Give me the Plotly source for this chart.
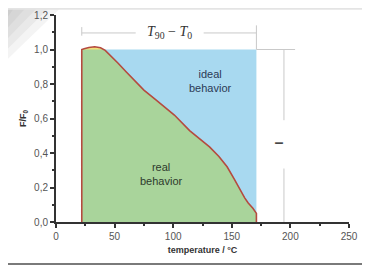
import plotly.graph_objects as go

# measured curve (temperature in °C, relative force F/F0)
temperature = [22, 22, 24, 28, 33, 38, 42, 45, 49, 53, 60, 67, 75, 85, 93, 101, 114, 123, 131,
               139, 146, 152, 157, 161, 164, 168, 171, 171]
force_ratio = [0, 1.0, 1.004, 1.012, 1.016, 1.01, 0.995, 0.975, 0.95, 0.92, 0.87, 0.82, 0.765,
               0.71, 0.665, 0.62, 0.53, 0.48, 0.435, 0.38, 0.32, 0.25, 0.185, 0.14, 0.11, 0.08,
               0.05, 0]

T0 = 22
T90 = 171
ideal_level = 1.0

x_ticks = [0, 50, 100, 150, 200, 250]
y_ticks = [0.0, 0.2, 0.4, 0.6, 0.8, 1.0, 1.2]
y_tick_text = ["0,0", "0,2", "0,4", "0,6", "0,8", "1,0", "1,2"]

GREEN = "#a9d49b"
BLUE = "#a8d9f0"
YELLOW = "#f3e07a"
LINE = "#b54a3f"
GUIDE = "#c9c9c9"

fig = go.Figure()

# ideal behaviour rectangle
fig.add_trace(go.Scatter(x=[T0, T90, T90, T0, T0], y=[0, 0, ideal_level, ideal_level, 0],
                         fill="toself", fillcolor=BLUE, line=dict(width=0), mode="lines",
                         hoverinfo="skip", showlegend=False))
# real behaviour area
fig.add_trace(go.Scatter(x=temperature, y=force_ratio, fill="toself", fillcolor=GREEN,
                         line=dict(width=0), mode="lines", hoverinfo="skip", showlegend=False))
# overshoot above ideal level (region between curve and ideal level)
over_x, over_y = [], []
for i in range(1, len(temperature)):
    t, f = temperature[i], force_ratio[i]
    if f >= ideal_level:
        over_x.append(t)
        over_y.append(f)
    elif over_x:
        tp, fp = temperature[i - 1], force_ratio[i - 1]
        over_x.append(tp + (fp - ideal_level) / (fp - f) * (t - tp))
        over_y.append(ideal_level)
        break
fig.add_trace(go.Scatter(x=over_x, y=over_y, fill="toself", fillcolor=YELLOW,
                         line=dict(width=0), mode="lines", hoverinfo="skip", showlegend=False))
# curve
fig.add_trace(go.Scatter(x=temperature, y=force_ratio, mode="lines",
                         line=dict(color=LINE, width=1.6), showlegend=False))

shapes = []
def seg(x0, y0, x1, y1, color=GUIDE, width=1, xref="x", yref="y"):
    shapes.append(dict(type="line", x0=x0, y0=y0, x1=x1, y1=y1, xref=xref, yref=yref,
                       line=dict(color=color, width=width), layer="above"))

# guide lines
seg(T90, ideal_level, 204, ideal_level)
seg(194.5, ideal_level, 194.5, 0.59)
seg(194.5, 0.31, 194.5, 0.0)
seg(T0, 1.096, 68, 1.096)
seg(126, 1.096, T90, 1.096)
seg(T90, 1.14, T90, ideal_level)
seg(T0, 1.08, T0, 1.13)

# decorative frame (soft corner shading, top band, bottom line)
for k, a in enumerate([0.08, 0.08, 0.08, 0.08, 0.08]):
    ex = 0.02 - 0.04 * k
    ey = 0.78 + 0.05 * k
    shapes.append(dict(type="path", xref="paper", yref="paper",
                       path=f"M -0.17 1.04 L {ex:.3f} 1.04 L -0.17 {ey:.3f} Z",
                       fillcolor=f"rgba(110,110,110,{a})", line=dict(width=0), layer="below"))
shapes.append(dict(type="rect", xref="paper", yref="paper", x0=-0.17, x1=1.1, y0=1.025, y1=1.04,
                   fillcolor="#e4e4e4", line=dict(width=0), layer="below"))
shapes.append(dict(type="line", xref="paper", yref="paper", x0=-0.2, x1=1.1, y0=-0.203, y1=-0.203,
                   line=dict(color="#7a7a7a", width=2)))

annotations = [
    dict(x=132, y=0.82, text="ideal<br>behavior", showarrow=False,
         font=dict(family="Liberation Sans, Arial", size=11, color="#2b3a55")),
    dict(x=90, y=0.28, text="real<br>behavior", showarrow=False,
         font=dict(family="Liberation Sans, Arial", size=11, color="#2d3a2d")),
    dict(x=97, y=1.096, text="<i>T</i><sub>90</sub> − <i>T</i><sub>0</sub>", showarrow=False,
         font=dict(family="Liberation Serif, Times New Roman", size=14, color="#333333")),
    dict(x=191.5, y=0.458, text="<b>I</b>", showarrow=False, textangle=-90,
         font=dict(family="Liberation Sans", size=10, color="#333333")),
]

# the page body adds an 8 px offset, so the figure is sized to end at the window edge
fig.update_layout(
    width=362, height=258,
    margin=dict(l=48, r=21, t=7, b=44, autoexpand=False),
    paper_bgcolor="white", plot_bgcolor="white",
    shapes=shapes, annotations=annotations,
    font=dict(family="Liberation Sans, Arial", size=10, color="#555555"),
    xaxis=dict(range=[0, 250], tickvals=x_ticks, ticks="outside", ticklen=4, tickwidth=1.5,
               tickcolor="#333333", showline=True, linecolor="#333333", linewidth=2,
               showgrid=False, zeroline=False,
               minor=dict(ticks="outside", ticklen=2, tickwidth=1.5, tickcolor="#333333", dtick=25),
               title=dict(text="<b>temperature / °C</b>", standoff=6,
                          font=dict(size=9, color="#333333")),
               tickfont=dict(size=10, color="#555555")),
    yaxis=dict(range=[0, 1.2], tickvals=y_ticks, ticktext=y_tick_text, ticks="outside",
               ticklen=4, tickwidth=1.5, tickcolor="#333333", showline=True,
               linecolor="#333333", linewidth=2, showgrid=False, zeroline=False,
               minor=dict(ticks="outside", ticklen=2, tickwidth=1.5, tickcolor="#333333", dtick=0.1),
               title=dict(text="<b>F/F<sub>0</sub></b>", standoff=6,
                          font=dict(size=9, color="#333333")),
               tickfont=dict(size=10, color="#555555")),
)

fig.write_html("out.html")
